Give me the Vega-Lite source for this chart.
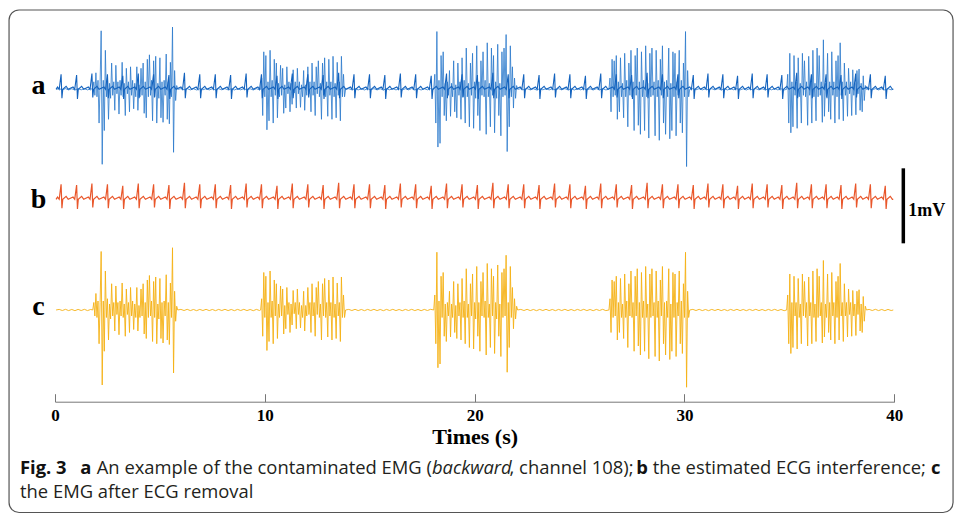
{
"$schema":"https://vega.github.io/schema/vega-lite/v6.json",
"width":839.3,"height":391.7,
"autosize":{"type":"none"},
"padding":{"left":55,"top":10,"right":65.7,"bottom":114.3},
"config":{"view":{"stroke":null}},
"datasets":{
"ecg":[{"t":0.05,"v":0},
{"t":0.12,"v":0.03},{"t":0.2,"v":0},{"t":0.29,"v":0.2},{"t":0.33,"v":-0.12},{"t":0.37,"v":0},{"t":0.53,"v":0.04},{"t":0.63,"v":0},
{"t":0.86,"v":0.03},{"t":0.94,"v":0},{"t":1.03,"v":0.19},{"t":1.07,"v":-0.13},{"t":1.11,"v":0},{"t":1.27,"v":0.04},{"t":1.37,"v":0},
{"t":1.59,"v":0.03},{"t":1.67,"v":0},{"t":1.76,"v":0.21},{"t":1.8,"v":-0.11},{"t":1.84,"v":0},{"t":2,"v":0.04},{"t":2.1,"v":0},
{"t":2.33,"v":0.03},{"t":2.41,"v":0},{"t":2.5,"v":0.2},{"t":2.54,"v":-0.12},{"t":2.58,"v":0},{"t":2.74,"v":0.04},{"t":2.84,"v":0},
{"t":3.06,"v":0.03},{"t":3.14,"v":0},{"t":3.23,"v":0.18},{"t":3.27,"v":-0.13},{"t":3.31,"v":0},{"t":3.47,"v":0.04},{"t":3.57,"v":0},
{"t":3.8,"v":0.03},{"t":3.88,"v":0},{"t":3.97,"v":0.21},{"t":4.01,"v":-0.12},{"t":4.05,"v":0},{"t":4.21,"v":0.04},{"t":4.31,"v":0},
{"t":4.53,"v":0.03},{"t":4.61,"v":0},{"t":4.7,"v":0.2},{"t":4.74,"v":-0.11},{"t":4.78,"v":0},{"t":4.94,"v":0.04},{"t":5.04,"v":0},
{"t":5.26,"v":0.03},{"t":5.34,"v":0},{"t":5.43,"v":0.19},{"t":5.47,"v":-0.13},{"t":5.51,"v":0},{"t":5.67,"v":0.04},{"t":5.77,"v":0},
{"t":6,"v":0.03},{"t":6.08,"v":0},{"t":6.17,"v":0.22},{"t":6.21,"v":-0.12},{"t":6.25,"v":0},{"t":6.41,"v":0.04},{"t":6.51,"v":0},
{"t":6.73,"v":0.03},{"t":6.81,"v":0},{"t":6.9,"v":0.2},{"t":6.94,"v":-0.12},{"t":6.98,"v":0},{"t":7.14,"v":0.04},{"t":7.24,"v":0},
{"t":7.47,"v":0.03},{"t":7.55,"v":0},{"t":7.64,"v":0.2},{"t":7.68,"v":-0.12},{"t":7.72,"v":0},{"t":7.88,"v":0.04},{"t":7.98,"v":0},
{"t":8.2,"v":0.03},{"t":8.28,"v":0},{"t":8.37,"v":0.19},{"t":8.41,"v":-0.13},{"t":8.45,"v":0},{"t":8.61,"v":0.04},{"t":8.71,"v":0},
{"t":8.94,"v":0.03},{"t":9.02,"v":0},{"t":9.11,"v":0.21},{"t":9.15,"v":-0.11},{"t":9.19,"v":0},{"t":9.35,"v":0.04},{"t":9.45,"v":0},
{"t":9.67,"v":0.03},{"t":9.75,"v":0},{"t":9.84,"v":0.2},{"t":9.88,"v":-0.12},{"t":9.92,"v":0},{"t":10.08,"v":0.04},{"t":10.18,"v":0},
{"t":10.41,"v":0.03},{"t":10.49,"v":0},{"t":10.58,"v":0.18},{"t":10.62,"v":-0.13},{"t":10.66,"v":0},{"t":10.82,"v":0.04},{"t":10.92,"v":0},
{"t":11.14,"v":0.03},{"t":11.22,"v":0},{"t":11.31,"v":0.21},{"t":11.35,"v":-0.12},{"t":11.39,"v":0},{"t":11.55,"v":0.04},{"t":11.65,"v":0},
{"t":11.88,"v":0.03},{"t":11.96,"v":0},{"t":12.05,"v":0.2},{"t":12.09,"v":-0.11},{"t":12.13,"v":0},{"t":12.29,"v":0.04},{"t":12.39,"v":0},
{"t":12.61,"v":0.03},{"t":12.69,"v":0},{"t":12.78,"v":0.19},{"t":12.82,"v":-0.13},{"t":12.86,"v":0},{"t":13.02,"v":0.04},{"t":13.12,"v":0},
{"t":13.35,"v":0.03},{"t":13.43,"v":0},{"t":13.52,"v":0.22},{"t":13.56,"v":-0.12},{"t":13.6,"v":0},{"t":13.76,"v":0.04},{"t":13.86,"v":0},
{"t":14.08,"v":0.03},{"t":14.16,"v":0},{"t":14.25,"v":0.2},{"t":14.29,"v":-0.12},{"t":14.33,"v":0},{"t":14.49,"v":0.04},{"t":14.59,"v":0},
{"t":14.82,"v":0.03},{"t":14.9,"v":0},{"t":14.99,"v":0.2},{"t":15.03,"v":-0.12},{"t":15.07,"v":0},{"t":15.23,"v":0.04},{"t":15.33,"v":0},
{"t":15.55,"v":0.03},{"t":15.63,"v":0},{"t":15.72,"v":0.19},{"t":15.76,"v":-0.13},{"t":15.8,"v":0},{"t":15.96,"v":0.04},{"t":16.06,"v":0},
{"t":16.29,"v":0.03},{"t":16.37,"v":0},{"t":16.46,"v":0.21},{"t":16.5,"v":-0.11},{"t":16.54,"v":0},{"t":16.7,"v":0.04},{"t":16.8,"v":0},
{"t":17.02,"v":0.03},{"t":17.1,"v":0},{"t":17.19,"v":0.2},{"t":17.23,"v":-0.12},{"t":17.27,"v":0},{"t":17.43,"v":0.04},{"t":17.53,"v":0},
{"t":17.76,"v":0.03},{"t":17.84,"v":0},{"t":17.93,"v":0.18},{"t":17.97,"v":-0.13},{"t":18.01,"v":0},{"t":18.17,"v":0.04},{"t":18.27,"v":0},
{"t":18.49,"v":0.03},{"t":18.57,"v":0},{"t":18.66,"v":0.21},{"t":18.7,"v":-0.12},{"t":18.74,"v":0},{"t":18.9,"v":0.04},{"t":19,"v":0},
{"t":19.23,"v":0.03},{"t":19.31,"v":0},{"t":19.4,"v":0.2},{"t":19.44,"v":-0.11},{"t":19.48,"v":0},{"t":19.64,"v":0.04},{"t":19.74,"v":0},
{"t":19.96,"v":0.03},{"t":20.04,"v":0},{"t":20.13,"v":0.19},{"t":20.17,"v":-0.13},{"t":20.21,"v":0},{"t":20.37,"v":0.04},{"t":20.47,"v":0},
{"t":20.7,"v":0.03},{"t":20.78,"v":0},{"t":20.87,"v":0.22},{"t":20.91,"v":-0.12},{"t":20.95,"v":0},{"t":21.11,"v":0.04},{"t":21.21,"v":0},
{"t":21.43,"v":0.03},{"t":21.51,"v":0},{"t":21.6,"v":0.2},{"t":21.64,"v":-0.12},{"t":21.68,"v":0},{"t":21.84,"v":0.04},{"t":21.94,"v":0},
{"t":22.17,"v":0.03},{"t":22.25,"v":0},{"t":22.34,"v":0.2},{"t":22.38,"v":-0.12},{"t":22.42,"v":0},{"t":22.58,"v":0.04},{"t":22.68,"v":0},
{"t":22.9,"v":0.03},{"t":22.98,"v":0},{"t":23.07,"v":0.19},{"t":23.11,"v":-0.13},{"t":23.15,"v":0},{"t":23.31,"v":0.04},{"t":23.41,"v":0},
{"t":23.64,"v":0.03},{"t":23.72,"v":0},{"t":23.81,"v":0.21},{"t":23.85,"v":-0.11},{"t":23.89,"v":0},{"t":24.05,"v":0.04},{"t":24.15,"v":0},
{"t":24.37,"v":0.03},{"t":24.45,"v":0},{"t":24.54,"v":0.2},{"t":24.58,"v":-0.12},{"t":24.62,"v":0},{"t":24.78,"v":0.04},{"t":24.88,"v":0},
{"t":25.11,"v":0.03},{"t":25.19,"v":0},{"t":25.28,"v":0.18},{"t":25.32,"v":-0.13},{"t":25.36,"v":0},{"t":25.52,"v":0.04},{"t":25.62,"v":0},
{"t":25.84,"v":0.03},{"t":25.92,"v":0},{"t":26.01,"v":0.21},{"t":26.05,"v":-0.12},{"t":26.09,"v":0},{"t":26.25,"v":0.04},{"t":26.35,"v":0},
{"t":26.58,"v":0.03},{"t":26.66,"v":0},{"t":26.75,"v":0.2},{"t":26.79,"v":-0.11},{"t":26.83,"v":0},{"t":26.99,"v":0.04},{"t":27.09,"v":0},
{"t":27.31,"v":0.03},{"t":27.39,"v":0},{"t":27.48,"v":0.19},{"t":27.52,"v":-0.13},{"t":27.56,"v":0},{"t":27.72,"v":0.04},{"t":27.82,"v":0},
{"t":28.05,"v":0.03},{"t":28.13,"v":0},{"t":28.22,"v":0.22},{"t":28.26,"v":-0.12},{"t":28.3,"v":0},{"t":28.46,"v":0.04},{"t":28.56,"v":0},
{"t":28.78,"v":0.03},{"t":28.86,"v":0},{"t":28.95,"v":0.2},{"t":28.99,"v":-0.12},{"t":29.03,"v":0},{"t":29.19,"v":0.04},{"t":29.29,"v":0},
{"t":29.52,"v":0.03},{"t":29.6,"v":0},{"t":29.69,"v":0.2},{"t":29.73,"v":-0.12},{"t":29.77,"v":0},{"t":29.93,"v":0.04},{"t":30.03,"v":0},
{"t":30.25,"v":0.03},{"t":30.33,"v":0},{"t":30.42,"v":0.19},{"t":30.46,"v":-0.13},{"t":30.5,"v":0},{"t":30.66,"v":0.04},{"t":30.76,"v":0},
{"t":30.95,"v":0.03},{"t":31.03,"v":0},{"t":31.12,"v":0.21},{"t":31.16,"v":-0.11},{"t":31.2,"v":0},{"t":31.36,"v":0.04},{"t":31.46,"v":0},
{"t":31.66,"v":0.03},{"t":31.74,"v":0},{"t":31.83,"v":0.2},{"t":31.87,"v":-0.12},{"t":31.91,"v":0},{"t":32.07,"v":0.04},{"t":32.17,"v":0},
{"t":32.36,"v":0.03},{"t":32.44,"v":0},{"t":32.53,"v":0.18},{"t":32.57,"v":-0.13},{"t":32.61,"v":0},{"t":32.77,"v":0.04},{"t":32.87,"v":0},
{"t":33.06,"v":0.03},{"t":33.14,"v":0},{"t":33.23,"v":0.21},{"t":33.27,"v":-0.12},{"t":33.31,"v":0},{"t":33.47,"v":0.04},{"t":33.57,"v":0},
{"t":33.77,"v":0.03},{"t":33.85,"v":0},{"t":33.94,"v":0.2},{"t":33.98,"v":-0.11},{"t":34.02,"v":0},{"t":34.18,"v":0.04},{"t":34.28,"v":0},
{"t":34.47,"v":0.03},{"t":34.55,"v":0},{"t":34.64,"v":0.19},{"t":34.68,"v":-0.13},{"t":34.72,"v":0},{"t":34.88,"v":0.04},{"t":34.98,"v":0},
{"t":35.18,"v":0.03},{"t":35.26,"v":0},{"t":35.35,"v":0.22},{"t":35.39,"v":-0.12},{"t":35.43,"v":0},{"t":35.59,"v":0.04},{"t":35.69,"v":0},
{"t":35.88,"v":0.03},{"t":35.96,"v":0},{"t":36.05,"v":0.2},{"t":36.09,"v":-0.12},{"t":36.13,"v":0},{"t":36.29,"v":0.04},{"t":36.39,"v":0},
{"t":36.58,"v":0.03},{"t":36.66,"v":0},{"t":36.75,"v":0.2},{"t":36.79,"v":-0.12},{"t":36.83,"v":0},{"t":36.99,"v":0.04},{"t":37.09,"v":0},
{"t":37.29,"v":0.03},{"t":37.37,"v":0},{"t":37.46,"v":0.19},{"t":37.5,"v":-0.13},{"t":37.54,"v":0},{"t":37.7,"v":0.04},{"t":37.8,"v":0},
{"t":37.99,"v":0.03},{"t":38.07,"v":0},{"t":38.16,"v":0.21},{"t":38.2,"v":-0.11},{"t":38.24,"v":0},{"t":38.4,"v":0.04},{"t":38.5,"v":0},
{"t":38.69,"v":0.03},{"t":38.77,"v":0},{"t":38.86,"v":0.2},{"t":38.9,"v":-0.12},{"t":38.94,"v":0},{"t":39.1,"v":0.04},{"t":39.2,"v":0},
{"t":39.4,"v":0.03},{"t":39.48,"v":0},{"t":39.57,"v":0.18},{"t":39.61,"v":-0.13},{"t":39.65,"v":0},{"t":39.81,"v":0.04},{"t":39.91,"v":0},
{"t":39.95,"v":0}],
"emg":[{"t":0.05,"v":0},
{"t":0.2,"v":0.008},{"t":0.35,"v":-0.007},{"t":0.5,"v":0.009},{"t":0.65,"v":-0.008},{"t":0.8,"v":0.007},{"t":0.95,"v":-0.009},{"t":1.1,"v":0.008},{"t":1.25,"v":-0.007},{"t":1.4,"v":0.009},{"t":1.55,"v":-0.008},{"t":1.7,"v":0.007},
{"t":1.8,"v":0},
{"t":1.85,"v":0.1},{"t":1.9,"v":-0.08},{"t":1.95,"v":0.22},{"t":2,"v":-0.1},{"t":2.05,"v":0.12},{"t":2.1,"v":-0.45},{"t":2.15,"v":0.1},{"t":2.2,"v":0.78},{"t":2.25,"v":-1},{"t":2.3,"v":0.12},{"t":2.35,"v":-0.55},{"t":2.4,"v":0.52},{"t":2.45,"v":-0.1},{"t":2.5,"v":0.15},{"t":2.55,"v":-0.4},{"t":2.6,"v":0.08},{"t":2.65,"v":-0.12},{"t":2.7,"v":0.35},{"t":2.75,"v":-0.08},{"t":2.8,"v":0.1},{"t":2.85,"v":-0.28},{"t":2.9,"v":0.32},{"t":2.95,"v":-0.06},{"t":3,"v":0.1},{"t":3.05,"v":-0.33},{"t":3.1,"v":0.12},{"t":3.15,"v":-0.08},{"t":3.2,"v":0.36},{"t":3.25,"v":-0.1},{"t":3.3,"v":0.08},{"t":3.35,"v":-0.35},{"t":3.4,"v":0.28},{"t":3.45,"v":-0.06},{"t":3.5,"v":0.1},{"t":3.55,"v":-0.3},{"t":3.6,"v":0.3},{"t":3.65,"v":-0.08},{"t":3.7,"v":0.12},{"t":3.75,"v":-0.26},{"t":3.8,"v":0.08},{"t":3.85,"v":-0.1},{"t":3.9,"v":0.3},{"t":3.95,"v":-0.28},{"t":4,"v":0.06},{"t":4.05,"v":-0.1},{"t":4.1,"v":0.28},{"t":4.15,"v":-0.08},{"t":4.2,"v":0.35},{"t":4.25,"v":-0.32},{"t":4.3,"v":0.1},{"t":4.35,"v":-0.38},{"t":4.4,"v":0.4},{"t":4.45,"v":-0.1},{"t":4.5,"v":0.46},{"t":4.55,"v":-0.08},{"t":4.6,"v":0.12},{"t":4.65,"v":-0.42},{"t":4.7,"v":0.38},{"t":4.75,"v":-0.1},{"t":4.8,"v":0.44},{"t":4.85,"v":-0.45},{"t":4.9,"v":0.08},{"t":4.95,"v":-0.12},{"t":5,"v":0.42},{"t":5.05,"v":-0.38},{"t":5.1,"v":0.1},{"t":5.15,"v":-0.44},{"t":5.2,"v":0.12},{"t":5.25,"v":-0.08},{"t":5.3,"v":0.47},{"t":5.35,"v":-0.4},{"t":5.4,"v":0.1},{"t":5.45,"v":-0.46},{"t":5.5,"v":0.36},{"t":5.55,"v":-0.1},{"t":5.6,"v":0.83},{"t":5.65,"v":-0.84},{"t":5.7,"v":0.25},{"t":5.75,"v":-0.15},{"t":5.8,"v":0.05},{"t":5.85,"v":0},
{"t":6,"v":0.008},{"t":6.15,"v":-0.007},{"t":6.3,"v":0.009},{"t":6.45,"v":-0.008},{"t":6.6,"v":0.007},{"t":6.75,"v":-0.009},{"t":6.9,"v":0.008},{"t":7.05,"v":-0.007},{"t":7.2,"v":0.009},{"t":7.35,"v":-0.008},{"t":7.5,"v":0.007},{"t":7.65,"v":-0.009},{"t":7.8,"v":0.008},{"t":7.95,"v":-0.007},{"t":8.1,"v":0.009},{"t":8.25,"v":-0.008},{"t":8.4,"v":0.007},{"t":8.55,"v":-0.009},{"t":8.7,"v":0.008},{"t":8.85,"v":-0.007},{"t":9,"v":0.009},{"t":9.15,"v":-0.008},{"t":9.3,"v":0.007},{"t":9.45,"v":-0.009},{"t":9.6,"v":0.008},{"t":9.75,"v":-0.007},
{"t":9.8,"v":0},
{"t":9.85,"v":0.15},{"t":9.9,"v":-0.35},{"t":9.95,"v":0.5},{"t":10,"v":-0.1},{"t":10.05,"v":0.45},{"t":10.1,"v":-0.54},{"t":10.15,"v":0.1},{"t":10.2,"v":-0.42},{"t":10.25,"v":0.52},{"t":10.3,"v":-0.1},{"t":10.35,"v":0.12},{"t":10.4,"v":-0.45},{"t":10.45,"v":0.4},{"t":10.5,"v":-0.08},{"t":10.55,"v":0.35},{"t":10.6,"v":-0.38},{"t":10.65,"v":0.08},{"t":10.7,"v":-0.1},{"t":10.75,"v":0.32},{"t":10.8,"v":-0.08},{"t":10.85,"v":0.28},{"t":10.9,"v":-0.32},{"t":10.95,"v":0.06},{"t":11,"v":-0.25},{"t":11.05,"v":0.3},{"t":11.1,"v":-0.06},{"t":11.15,"v":0.1},{"t":11.2,"v":-0.3},{"t":11.25,"v":0.08},{"t":11.3,"v":-0.2},{"t":11.35,"v":0.26},{"t":11.4,"v":-0.05},{"t":11.45,"v":0.1},{"t":11.5,"v":-0.25},{"t":11.55,"v":0.28},{"t":11.6,"v":-0.06},{"t":11.65,"v":0.1},{"t":11.7,"v":-0.24},{"t":11.75,"v":0.06},{"t":11.8,"v":-0.1},{"t":11.85,"v":0.25},{"t":11.9,"v":-0.28},{"t":11.95,"v":0.06},{"t":12,"v":-0.08},{"t":12.05,"v":0.3},{"t":12.1,"v":-0.06},{"t":12.15,"v":0.1},{"t":12.2,"v":-0.3},{"t":12.25,"v":0.35},{"t":12.3,"v":-0.08},{"t":12.35,"v":0.1},{"t":12.4,"v":-0.35},{"t":12.45,"v":0.3},{"t":12.5,"v":-0.06},{"t":12.55,"v":0.38},{"t":12.6,"v":-0.1},{"t":12.65,"v":0.08},{"t":12.7,"v":-0.4},{"t":12.75,"v":0.35},{"t":12.8,"v":-0.08},{"t":12.85,"v":0.42},{"t":12.9,"v":-0.1},{"t":12.95,"v":0.1},{"t":13,"v":-0.36},{"t":13.05,"v":0.4},{"t":13.1,"v":-0.08},{"t":13.15,"v":0.1},{"t":13.2,"v":-0.4},{"t":13.25,"v":0.44},{"t":13.3,"v":-0.1},{"t":13.35,"v":0.08},{"t":13.4,"v":-0.38},{"t":13.45,"v":0.36},{"t":13.5,"v":-0.08},{"t":13.55,"v":0.1},{"t":13.6,"v":-0.42},{"t":13.65,"v":0.44},{"t":13.7,"v":-0.1},{"t":13.75,"v":0.2},{"t":13.8,"v":-0.1},{"t":13.85,"v":0},
{"t":14,"v":0.008},{"t":14.15,"v":-0.007},{"t":14.3,"v":0.009},{"t":14.45,"v":-0.008},{"t":14.6,"v":0.007},{"t":14.75,"v":-0.009},{"t":14.9,"v":0.008},{"t":15.05,"v":-0.007},{"t":15.2,"v":0.009},{"t":15.35,"v":-0.008},{"t":15.5,"v":0.007},{"t":15.65,"v":-0.009},{"t":15.8,"v":0.008},{"t":15.95,"v":-0.007},{"t":16.1,"v":0.009},{"t":16.25,"v":-0.008},{"t":16.4,"v":0.007},{"t":16.55,"v":-0.009},{"t":16.7,"v":0.008},{"t":16.85,"v":-0.007},{"t":17,"v":0.009},{"t":17.15,"v":-0.008},{"t":17.3,"v":0.007},{"t":17.45,"v":-0.009},{"t":17.6,"v":0.008},{"t":17.75,"v":-0.007},{"t":17.9,"v":0.009},
{"t":18.05,"v":0},
{"t":18.1,"v":0.2},{"t":18.15,"v":-0.45},{"t":18.2,"v":0.77},{"t":18.25,"v":-0.77},{"t":18.3,"v":0.12},{"t":18.35,"v":-0.72},{"t":18.4,"v":0.45},{"t":18.45,"v":-0.1},{"t":18.5,"v":0.5},{"t":18.55,"v":-0.35},{"t":18.6,"v":0.08},{"t":18.65,"v":-0.42},{"t":18.7,"v":0.1},{"t":18.75,"v":-0.08},{"t":18.8,"v":0.25},{"t":18.85,"v":-0.36},{"t":18.9,"v":0.08},{"t":18.95,"v":-0.1},{"t":19,"v":0.38},{"t":19.05,"v":-0.3},{"t":19.1,"v":0.06},{"t":19.15,"v":-0.38},{"t":19.2,"v":0.35},{"t":19.25,"v":-0.08},{"t":19.3,"v":0.1},{"t":19.35,"v":-0.4},{"t":19.4,"v":0.42},{"t":19.45,"v":-0.1},{"t":19.5,"v":0.12},{"t":19.55,"v":-0.45},{"t":19.6,"v":0.55},{"t":19.65,"v":-0.1},{"t":19.7,"v":0.08},{"t":19.75,"v":-0.5},{"t":19.8,"v":0.35},{"t":19.85,"v":-0.08},{"t":19.9,"v":0.48},{"t":19.95,"v":-0.52},{"t":20,"v":0.1},{"t":20.05,"v":-0.12},{"t":20.1,"v":0.58},{"t":20.15,"v":-0.35},{"t":20.2,"v":0.1},{"t":20.25,"v":-0.55},{"t":20.3,"v":0.38},{"t":20.35,"v":-0.08},{"t":20.4,"v":0.5},{"t":20.45,"v":-0.1},{"t":20.5,"v":0.12},{"t":20.55,"v":-0.6},{"t":20.6,"v":0.62},{"t":20.65,"v":-0.1},{"t":20.7,"v":0.08},{"t":20.75,"v":-0.5},{"t":20.8,"v":0.55},{"t":20.85,"v":-0.08},{"t":20.9,"v":0.45},{"t":20.95,"v":-0.58},{"t":21,"v":0.1},{"t":21.05,"v":-0.12},{"t":21.1,"v":0.6},{"t":21.15,"v":-0.35},{"t":21.2,"v":0.08},{"t":21.25,"v":-0.62},{"t":21.3,"v":0.5},{"t":21.35,"v":-0.1},{"t":21.4,"v":0.55},{"t":21.45,"v":-0.08},{"t":21.5,"v":0.73},{"t":21.55,"v":-0.83},{"t":21.6,"v":0.1},{"t":21.65,"v":-0.5},{"t":21.7,"v":0.58},{"t":21.75,"v":-0.1},{"t":21.8,"v":0.3},{"t":21.85,"v":-0.25},{"t":21.9,"v":0.15},{"t":21.95,"v":-0.12},{"t":22,"v":0.05},{"t":22.05,"v":0},
{"t":22.2,"v":0.008},{"t":22.35,"v":-0.007},{"t":22.5,"v":0.009},{"t":22.65,"v":-0.008},{"t":22.8,"v":0.007},{"t":22.95,"v":-0.009},{"t":23.1,"v":0.008},{"t":23.25,"v":-0.007},{"t":23.4,"v":0.009},{"t":23.55,"v":-0.008},{"t":23.7,"v":0.007},{"t":23.85,"v":-0.009},{"t":24,"v":0.008},{"t":24.15,"v":-0.007},{"t":24.3,"v":0.009},{"t":24.45,"v":-0.008},{"t":24.6,"v":0.007},{"t":24.75,"v":-0.009},{"t":24.9,"v":0.008},{"t":25.05,"v":-0.007},{"t":25.2,"v":0.009},{"t":25.35,"v":-0.008},{"t":25.5,"v":0.007},{"t":25.65,"v":-0.009},{"t":25.8,"v":0.008},{"t":25.95,"v":-0.007},{"t":26.1,"v":0.009},{"t":26.25,"v":-0.008},
{"t":26.4,"v":0},
{"t":26.45,"v":0.15},{"t":26.5,"v":-0.3},{"t":26.55,"v":0.4},{"t":26.6,"v":-0.1},{"t":26.65,"v":0.38},{"t":26.7,"v":-0.08},{"t":26.75,"v":0.45},{"t":26.8,"v":-0.4},{"t":26.85,"v":0.1},{"t":26.9,"v":-0.3},{"t":26.95,"v":0.42},{"t":27,"v":-0.1},{"t":27.05,"v":0.08},{"t":27.1,"v":-0.38},{"t":27.15,"v":0.48},{"t":27.2,"v":-0.1},{"t":27.25,"v":0.12},{"t":27.3,"v":-0.5},{"t":27.35,"v":0.35},{"t":27.4,"v":-0.08},{"t":27.45,"v":0.52},{"t":27.5,"v":-0.1},{"t":27.55,"v":0.1},{"t":27.6,"v":-0.55},{"t":27.65,"v":0.45},{"t":27.7,"v":-0.08},{"t":27.75,"v":0.55},{"t":27.8,"v":-0.48},{"t":27.85,"v":0.1},{"t":27.9,"v":-0.6},{"t":27.95,"v":0.5},{"t":28,"v":-0.1},{"t":28.05,"v":0.12},{"t":28.1,"v":-0.55},{"t":28.15,"v":0.58},{"t":28.2,"v":-0.1},{"t":28.25,"v":0.08},{"t":28.3,"v":-0.65},{"t":28.35,"v":0.48},{"t":28.4,"v":-0.1},{"t":28.45,"v":0.55},{"t":28.5,"v":-0.08},{"t":28.55,"v":0.1},{"t":28.6,"v":-0.62},{"t":28.65,"v":0.52},{"t":28.7,"v":-0.1},{"t":28.75,"v":0.12},{"t":28.8,"v":-0.68},{"t":28.85,"v":0.4},{"t":28.9,"v":-0.08},{"t":28.95,"v":0.58},{"t":29,"v":-0.45},{"t":29.05,"v":0.1},{"t":29.1,"v":-0.6},{"t":29.15,"v":0.12},{"t":29.2,"v":-0.1},{"t":29.25,"v":0.55},{"t":29.3,"v":-0.66},{"t":29.35,"v":0.08},{"t":29.4,"v":-0.55},{"t":29.45,"v":0.5},{"t":29.5,"v":-0.1},{"t":29.55,"v":0.48},{"t":29.6,"v":-0.62},{"t":29.65,"v":0.1},{"t":29.7,"v":-0.08},{"t":29.75,"v":0.52},{"t":29.8,"v":-0.45},{"t":29.85,"v":0.12},{"t":29.9,"v":-0.58},{"t":29.95,"v":0.35},{"t":30,"v":-0.1},{"t":30.05,"v":0.77},{"t":30.1,"v":-1.03},{"t":30.15,"v":0.25},{"t":30.2,"v":-0.1},{"t":30.25,"v":0},
{"t":30.4,"v":0.008},{"t":30.55,"v":-0.007},{"t":30.7,"v":0.009},{"t":30.85,"v":-0.008},{"t":31,"v":0.007},{"t":31.15,"v":-0.009},{"t":31.3,"v":0.008},{"t":31.45,"v":-0.007},{"t":31.6,"v":0.009},{"t":31.75,"v":-0.008},{"t":31.9,"v":0.007},{"t":32.05,"v":-0.009},{"t":32.2,"v":0.008},{"t":32.35,"v":-0.007},{"t":32.5,"v":0.009},{"t":32.65,"v":-0.008},{"t":32.8,"v":0.007},{"t":32.95,"v":-0.009},{"t":33.1,"v":0.008},{"t":33.25,"v":-0.007},{"t":33.4,"v":0.009},{"t":33.55,"v":-0.008},{"t":33.7,"v":0.007},{"t":33.85,"v":-0.009},{"t":34,"v":0.008},{"t":34.15,"v":-0.007},{"t":34.3,"v":0.009},{"t":34.45,"v":-0.008},{"t":34.6,"v":0.007},{"t":34.75,"v":-0.009},
{"t":34.87,"v":0},
{"t":34.92,"v":0.2},{"t":34.97,"v":-0.45},{"t":35.02,"v":0.48},{"t":35.07,"v":-0.58},{"t":35.12,"v":0.1},{"t":35.17,"v":-0.5},{"t":35.22,"v":0.45},{"t":35.27,"v":-0.08},{"t":35.32,"v":0.1},{"t":35.37,"v":-0.52},{"t":35.42,"v":0.42},{"t":35.47,"v":-0.1},{"t":35.52,"v":0.08},{"t":35.57,"v":-0.45},{"t":35.62,"v":0.48},{"t":35.67,"v":-0.08},{"t":35.72,"v":0.38},{"t":35.77,"v":-0.1},{"t":35.82,"v":0.1},{"t":35.87,"v":-0.48},{"t":35.92,"v":0.44},{"t":35.97,"v":-0.08},{"t":36.02,"v":0.1},{"t":36.07,"v":-0.45},{"t":36.12,"v":0.52},{"t":36.17,"v":-0.1},{"t":36.22,"v":0.08},{"t":36.27,"v":-0.42},{"t":36.32,"v":0.55},{"t":36.37,"v":-0.1},{"t":36.42,"v":0.45},{"t":36.47,"v":-0.08},{"t":36.52,"v":0.1},{"t":36.57,"v":-0.44},{"t":36.62,"v":0.66},{"t":36.67,"v":-0.36},{"t":36.72,"v":0.08},{"t":36.77,"v":-0.1},{"t":36.82,"v":0.48},{"t":36.87,"v":-0.3},{"t":36.92,"v":0.1},{"t":36.97,"v":-0.4},{"t":37.02,"v":0.5},{"t":37.07,"v":-0.08},{"t":37.12,"v":0.1},{"t":37.17,"v":-0.45},{"t":37.22,"v":0.38},{"t":37.27,"v":-0.1},{"t":37.32,"v":0.45},{"t":37.37,"v":-0.4},{"t":37.42,"v":0.62},{"t":37.47,"v":-0.08},{"t":37.52,"v":0.1},{"t":37.57,"v":-0.42},{"t":37.62,"v":0.35},{"t":37.67,"v":-0.08},{"t":37.72,"v":0.1},{"t":37.77,"v":-0.36},{"t":37.82,"v":0.28},{"t":37.87,"v":-0.06},{"t":37.92,"v":0.1},{"t":37.97,"v":-0.35},{"t":38.02,"v":0.26},{"t":38.07,"v":-0.08},{"t":38.12,"v":0.08},{"t":38.17,"v":-0.34},{"t":38.22,"v":0.25},{"t":38.27,"v":-0.06},{"t":38.32,"v":0.27},{"t":38.37,"v":-0.28},{"t":38.42,"v":0.08},{"t":38.47,"v":-0.3},{"t":38.52,"v":0.18},{"t":38.57,"v":-0.15},{"t":38.62,"v":0.05},{"t":38.67,"v":0},
{"t":38.8,"v":0.008},{"t":38.95,"v":-0.007},{"t":39.1,"v":0.009},{"t":39.25,"v":-0.008},{"t":39.4,"v":0.007},{"t":39.55,"v":-0.009},{"t":39.7,"v":0.008},{"t":39.85,"v":-0.007},
{"t":39.95,"v":0}],
"frame":[{"t":-2.19,"t2":42.8,"y":4.0,"y2":-2.7}],
"panels":[{"lab":"a","t":-0.79,"y":2.88},{"lab":"b","t":-0.79,"y":1.36},{"lab":"c","t":-0.79,"y":-0.07}],
"bar":[{"t":40.43,"y":1.889,"y2":0.889,"lab":"1mV","tl":40.67,"yl":1.253}],
"cap":[
{"txt":"Fig. 3","t":-1.668,"y":-2.107,"kind":"head"},
{"txt":"a","t":1.206,"y":-2.107,"kind":"head"},
{"txt":"An example of the contaminated EMG (","t":1.988,"y":-2.107,"kind":"body"},
{"txt":"backward","t":17.965,"y":-2.107,"kind":"emph"},
{"txt":", channel 108);","t":21.663,"y":-2.107,"kind":"body"},
{"txt":"b","t":27.707,"y":-2.107,"kind":"head"},
{"txt":"the estimated ECG interference;","t":28.484,"y":-2.107,"kind":"body"},
{"txt":"c","t":41.75,"y":-2.107,"kind":"head"},
{"txt":"the EMG after ECG removal","t":-1.668,"y":-2.427,"kind":"body"}]
},
"encoding":{"x":{"field":"t","type":"quantitative","scale":{"domain":[0,40],"nice":false,"zero":false},
"axis":{"values":[0,10,20,30,40],"format":"d","labelFlush":false,"grid":false,"tickSize":-8,"labelPadding":14,"domainColor":"#777777","tickColor":"#777777","labelFont":"Liberation Serif","labelFontSize":17,"labelFontWeight":"bold","labelColor":"#000000","titleFont":"Liberation Serif","titleFontSize":22,"titleFontWeight":"bold","titleColor":"#000000","titlePadding":3},"title":"Times (s)"}},
"layer":[
{"data":{"name":"frame"},"mark":{"type":"rect","fill":null,"fillOpacity":0,"stroke":"#555555","strokeWidth":1.2,"cornerRadius":10,"clip":false},
 "encoding":{"x2":{"field":"t2"},"y":{"field":"y","type":"quantitative","scale":{"domain":[-1.2227,4.0]},"axis":null},"y2":{"field":"y2"}}},
{"data":{"name":"emg"},"mark":{"type":"line","color":"#f5b114","strokeWidth":0.9,"clip":false},
 "encoding":{"y":{"field":"v","type":"quantitative","scale":{"domain":[-1.2227,4.0]},"axis":null}}},
{"data":{"name":"ecg"},"mark":{"type":"line","color":"#e9572b","strokeWidth":1.2,"clip":false},
 "encoding":{"y":{"field":"v","type":"quantitative","scale":{"domain":[-2.6987,2.524]},"axis":null}}},
{"data":{"name":"emg"},"mark":{"type":"line","color":"#2a78cc","strokeWidth":0.8,"clip":false},
 "encoding":{"y":{"field":"v","type":"quantitative","scale":{"domain":[-4.1654,1.0573]},"axis":null}}},
{"data":{"name":"ecg"},"mark":{"type":"line","color":"#1463be","strokeWidth":1.1,"clip":false},
 "encoding":{"y":{"field":"v","type":"quantitative","scale":{"domain":[-4.1654,1.0573]},"axis":null}}},
{"data":{"name":"panels"},"mark":{"type":"text","font":"Liberation Serif","fontWeight":"bold","fontSize":28,"align":"center","baseline":"alphabetic","color":"#000000","clip":false},
 "encoding":{"y":{"field":"y","type":"quantitative","scale":{"domain":[-1.2227,4.0]},"axis":null},"text":{"field":"lab"}}},
{"data":{"name":"bar"},"mark":{"type":"rule","color":"#000000","strokeWidth":3.5,"clip":false},
 "encoding":{"y":{"field":"y","type":"quantitative","scale":{"domain":[-1.2227,4.0]},"axis":null},"y2":{"field":"y2"}}},
{"data":{"name":"bar"},"mark":{"type":"text","font":"Liberation Serif","fontWeight":"bold","fontSize":18,"align":"left","baseline":"alphabetic","color":"#000000","clip":false},
 "encoding":{"x":{"field":"tl","type":"quantitative"},"y":{"field":"yl","type":"quantitative","scale":{"domain":[-1.2227,4.0]},"axis":null},"text":{"field":"lab"}}},
{"data":{"name":"cap"},"transform":[{"filter":"datum.kind==='head'"}],"mark":{"type":"text","font":"Open Sans","fontWeight":"bold","fontSize":18.4,"align":"left","baseline":"middle","color":"#111111","clip":false},
 "encoding":{"y":{"field":"y","type":"quantitative","scale":{"domain":[-1.2227,4.0]},"axis":null},"text":{"field":"txt"}}},
{"data":{"name":"cap"},"transform":[{"filter":"datum.kind==='body'"}],"mark":{"type":"text","font":"Open Sans","fontSize":18.4,"align":"left","baseline":"middle","color":"#231f20","clip":false},
 "encoding":{"y":{"field":"y","type":"quantitative","scale":{"domain":[-1.2227,4.0]},"axis":null},"text":{"field":"txt"}}},
{"data":{"name":"cap"},"transform":[{"filter":"datum.kind==='emph'"}],"mark":{"type":"text","font":"Open Sans","fontStyle":"italic","fontSize":18.4,"align":"left","baseline":"middle","color":"#231f20","clip":false},
 "encoding":{"y":{"field":"y","type":"quantitative","scale":{"domain":[-1.2227,4.0]},"axis":null},"text":{"field":"txt"}}}
],
"resolve":{"scale":{"y":"independent"}}
}
